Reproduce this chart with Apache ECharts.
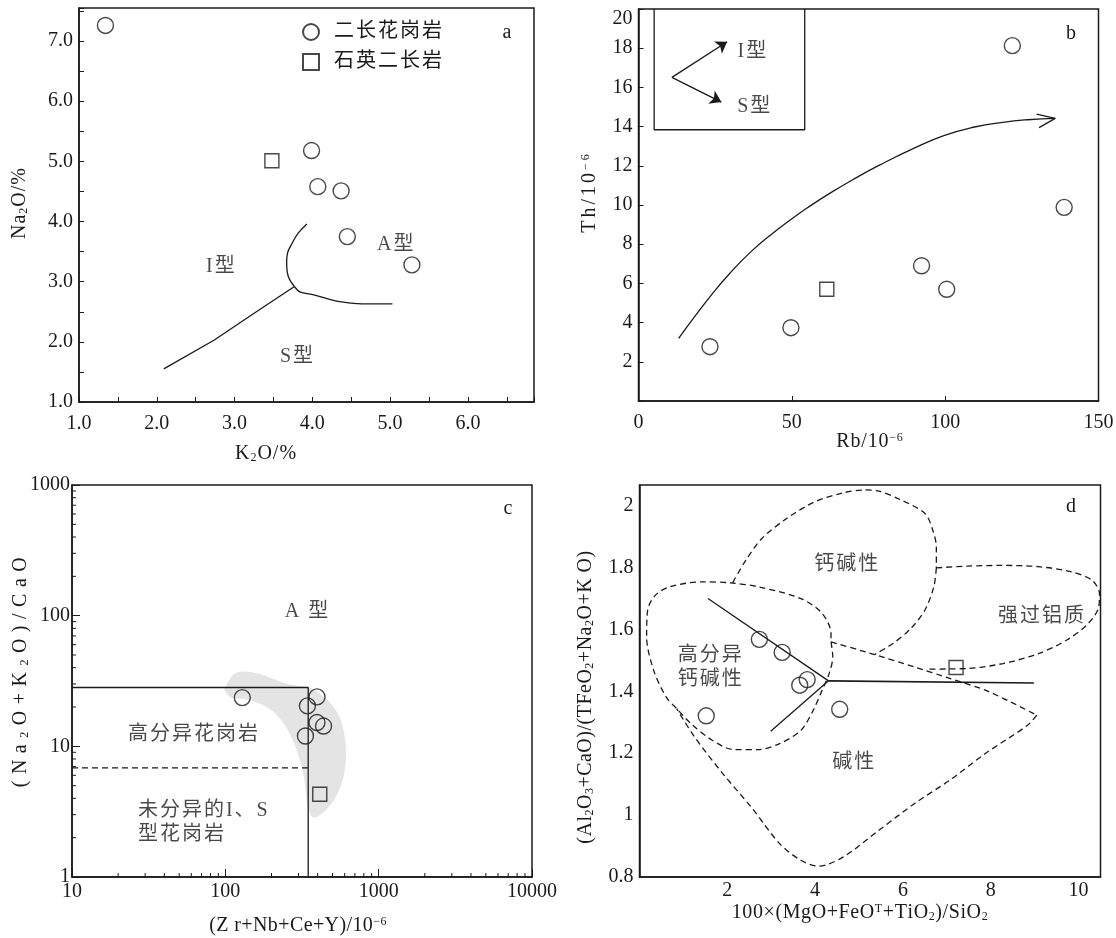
<!DOCTYPE html>
<html><head><meta charset="utf-8">
<script src="https://cdn.jsdelivr.net/npm/echarts/dist/echarts.min.js"></script>
<style>html,body{margin:0;padding:0;background:#fff}#c{width:1116px;height:938px}</style>
</head><body><div id="c"></div>
<script>
// ---------- Panel a : K2O vs Na2O ----------
const aMonzogranite = [[1.34,7.26],[3.99,5.18],[4.07,4.58],[4.37,4.51],[4.45,3.75],[5.28,3.28]];
const aQtzMonzonite = [[3.48,5.01]];
const aLineIS = [[2.09,1.55],[2.74,2.03],[3.29,2.51],[3.77,2.92]];
const aLineIA = [[3.77,2.92],[3.69,3.09],[3.67,3.31],[3.68,3.47],[3.74,3.64],[3.82,3.81],[3.93,3.96]];
const aLineSA = [[3.77,2.92],[3.84,2.83],[4.02,2.78],[4.30,2.68],[4.53,2.64],[4.76,2.63],[5.03,2.63]];
const aLabels = [{name:'I型',value:[2.83,3.25]},{name:'A型',value:[5.08,3.61]},{name:'S型',value:[3.81,1.76]}];

// ---------- Panel b : Rb vs Th ----------
const bMonzogranite = [[23.3,2.77],[49.7,3.74],[92.3,6.90],[100.5,5.70],[121.9,18.13],[138.8,9.88]];
const bQtzMonzonite = [[61.4,5.70]];
const bTrend = [[13.1,3.19],[18.3,4.30],[24.0,5.45],[29.8,6.52],[36.7,7.62],[43.7,8.55],[49.7,9.26],[55.2,9.87],[62.2,10.58],[70.3,11.33],[78.4,12.02],[89.9,12.90],[99.8,13.55],[109.6,13.98],[118.8,14.22],[126.9,14.35],[135.9,14.42]];
const bTrendHead = [[129.8,14.64],[135.9,14.42],[130.6,13.95]];
const bInsetBox = [[5.1,20],[5.1,13.84],[54.2,13.84],[54.2,20]];
const bInsetArrows = [[[10.9,16.51],[28.9,18.33]],[[10.9,16.51],[27.0,15.25]]];
const bLabels = [{name:'I型',value:[37.3,17.84]},{name:'S型',value:[37.9,15.0]}];

// ---------- Panel c : (Zr+Nb+Ce+Y) vs (Na2O+K2O)/CaO ----------
const cMonzogranite = [[129,23.6],[396,23.9],[343,20.4],[396,15.2],[437,14.3],[333,12.0]];
const cQtzMonzonite = [[413,4.30]];
const cBoxLine = [[10,28.2],[347,28.2],[347,1]];
const cDashLine = [[10,6.84],[347,6.84]];
const cFieldX = [100,117.5,162,248,381,526,601,601,526,425,372,347,325,292,248,200,146,108,99];
const cFieldY = [28.5,36.5,36.1,30.3,26.9,18.9,11.8,6.56,4.10,3.05,2.88,3.44,5.83,9.33,14.1,18.9,22.5,23.9,26.9];
const cLabelsCenter = [{name:'A 型',value:[343,107]},{name:'高分异花岗岩',value:[62.4,12.2]}];
const cLabelsLeft = [{name:'未分异的I、S\n型花岗岩',value:[26.9,2.58]}];

// ---------- Panel d ----------
const dMonzogranite = [[2.73,1.568],[3.25,1.526],[3.65,1.42],[3.82,1.438],[1.52,1.321],[4.56,1.342]];
const dQtzMonzonite = [[7.21,1.477]];
const dSolid1 = [[1.559,1.700],[4.305,1.434]];
const dSolid2 = [[2.989,1.271],[4.305,1.434]];
const dSolid3 = [[4.305,1.434],[8.982,1.427]];
const dCalcAlk = [[2.124,1.752],[2.423,1.824],[2.787,1.894],[3.352,1.959],[3.998,2.013],[4.645,2.042],[5.129,2.051],[5.452,2.047],[5.937,2.020],[6.502,1.975],[6.680,1.921],[6.761,1.867],[6.761,1.799]];
const dCalcAlkLow = [[6.761,1.799],[6.704,1.738],[6.502,1.663],[6.179,1.603],[5.775,1.555],[5.355,1.519]];
const dAlkTop = [[4.362,1.560],[5.355,1.519],[6.260,1.479],[7.068,1.442],[7.876,1.404],[8.522,1.361],[9.047,1.323]];
const dAlkRest = [[9.047,1.323],[8.845,1.291],[7.876,1.199],[7.068,1.113],[6.260,1.037],[5.452,0.951],[4.645,0.865],[4.079,0.835],[3.675,0.854],[3.191,0.908],[2.544,1.026],[1.898,1.134],[1.252,1.253],[0.848,1.344]];
const dFracEllipse = [[4.362,1.560],[4.402,1.512],[4.321,1.458],[4.160,1.404],[3.958,1.339],[3.675,1.274],[3.191,1.231],[2.706,1.212],[2.141,1.212],[1.656,1.242],[1.171,1.296],[0.848,1.344],[0.606,1.382],[0.323,1.468],[0.162,1.576],[0.186,1.663],[0.363,1.711],[0.687,1.738],[1.414,1.754],[2.060,1.751],[2.706,1.738],[3.675,1.700],[4.160,1.652],[4.362,1.587],[4.362,1.560]];
const dPeralum = [[6.761,1.799],[7.472,1.805],[8.280,1.807],[9.087,1.803],[9.814,1.787],[10.299,1.760],[10.477,1.716],[10.460,1.673],[10.218,1.619],[9.733,1.566],[9.087,1.522],[8.280,1.490],[7.472,1.474],[6.583,1.472]];
const dLabels = [{name:'钙碱性',value:[4.73,1.81]},{name:'强过铝质',value:[9.17,1.64]},{name:'高分异\n钙碱性',value:[1.62,1.475]},{name:'碱性',value:[4.89,1.17]}];

const SERIES_A = '二长花岗岩', SERIES_B = '石英二长岩';
const FONT = "'Liberation Serif','Noto Sans CJK SC',serif";
const INK = '#1a1a1a';

const chart = echarts.init(document.getElementById('c'), null, {renderer:'canvas'});

// wrap each character as its own rich token (for letter spacing)
function spaced(str, style){
  return str.split('').map(c => c==='\n' ? '\n' : '{'+style+'|'+c+'}').join('');
}
const cjkRich = {g:{fontSize:20,fontFamily:FONT,color:INK,padding:[0,2,0,0],lineHeight:24}};

function axisCommon(extra){
  return Object.assign({
    axisLine:{show:true,onZero:false,lineStyle:{color:INK,width:1.5}},
    axisTick:{show:true,inside:true,length:5,lineStyle:{color:INK,width:1}},
    axisLabel:{color:INK,fontSize:20,fontFamily:FONT},
    splitLine:{show:false}
  }, extra);
}
const fmt1 = v => Math.abs(v-Math.round(v))<1e-6 ? v.toFixed(1) : '';

function scatterPair(idx, monzo, qtz){
  return [
    {type:'scatter',name:SERIES_A,xAxisIndex:idx,yAxisIndex:idx,data:monzo,symbol:'circle',symbolSize:16,
     itemStyle:{color:'rgba(0,0,0,0)',borderColor:INK,borderWidth:1.4},z:5,silent:true},
    {type:'scatter',name:SERIES_B,xAxisIndex:idx,yAxisIndex:idx,data:qtz,symbol:'rect',symbolSize:14,
     itemStyle:{color:'rgba(0,0,0,0)',borderColor:INK,borderWidth:1.4},z:5,silent:true}
  ];
}
function line(idx, data, opts){
  opts = opts||{};
  return {type:'line',xAxisIndex:idx,yAxisIndex:idx,data:data,showSymbol:false,symbol:'none',
    smooth:opts.smooth||0,silent:true,z:3,
    lineStyle:{color:INK,width:opts.width||1.3,type:opts.dash?[6,4]:'solid'}};
}
function labels(idx, data, opts){
  opts = opts||{};
  return {type:'scatter',xAxisIndex:idx,yAxisIndex:idx,data:data,symbolSize:0,silent:true,z:4,
    label:{show:true,formatter:p=>spaced(p.name,'g'),position:opts.position||'inside',distance:0,align:opts.align||'center',
      color:INK,fontSize:20,fontFamily:FONT,lineHeight:24,rich:cjkRich}};
}

// axis name: parts = [[style,text],...], gap = extra letter spacing
function name(parts, x, y, rot, gap){
  const pad=[0,gap,0,0];
  const rich = {
    n:{fontSize:20,fontFamily:FONT,color:INK,padding:pad},
    sub:{fontSize:12,fontFamily:FONT,color:INK,verticalAlign:'bottom',padding:pad},
    sup:{fontSize:12,fontFamily:FONT,color:INK,verticalAlign:'top',padding:pad}
  };
  const text = parts.map(p=>spaced(p[1],p[0])).join('');
  return {type:'text',x:x,y:y,rotation:rot?Math.PI/2:0,silent:true,
    style:{text:text,rich:rich,fontSize:20,fontFamily:FONT,fill:INK,align:'center',verticalAlign:'middle'}};
}
function panelTag(t,x,y){
  return {type:'text',x:x,y:y,silent:true,style:{text:t,fontSize:20,fontFamily:FONT,fill:INK,align:'center',verticalAlign:'middle'}};
}

const cMinorX=[], cMinorY=[];
for (let e=1;e<4;e++) for (let m=2;m<=9;m++) cMinorX.push(m*Math.pow(10,e));
for (let e=0;e<3;e++) for (let m=2;m<=9;m++) cMinorY.push(m*Math.pow(10,e));

const option = {
  animation:false,
  backgroundColor:'#fff',
  textStyle:{fontFamily:FONT},
  legend:{show:true,left:297,top:17,orient:'vertical',itemGap:10,itemWidth:16,itemHeight:16,selectedMode:false,
    data:[SERIES_A,SERIES_B],formatter:n=>spaced(n,'g'),
    textStyle:{color:INK,fontSize:20,fontFamily:FONT,padding:[0,0,0,10],
      rich:{g:{fontSize:20,fontFamily:FONT,color:INK,padding:[0,2,0,0]}}}},
  grid:[
    {left:79,top:8,width:455,height:394,show:true,borderColor:INK,borderWidth:1.5,outerBoundsMode:'none'},
    {left:638.5,top:9,width:460,height:392,show:true,borderColor:INK,borderWidth:1.5,outerBoundsMode:'none'},
    {left:72,top:485,width:460,height:392,show:true,borderColor:INK,borderWidth:1.5,outerBoundsMode:'none'},
    {left:639.5,top:485,width:461,height:392,show:true,borderColor:INK,borderWidth:1.5,outerBoundsMode:'none'}
  ],
  xAxis:[
    axisCommon({type:'value',gridIndex:0,min:1,max:6.85,interval:0.5,
      axisLabel:{color:INK,fontSize:20,fontFamily:FONT,margin:12,formatter:fmt1}}),
    axisCommon({type:'value',gridIndex:1,min:0,max:150,interval:50,
      axisLabel:{color:INK,fontSize:20,fontFamily:FONT,margin:12}}),
    axisCommon({type:'log',logBase:10,gridIndex:2,min:10,max:10000,
      axisTick:{show:true,inside:true,length:8,lineStyle:{color:INK,width:1}},
      axisLabel:{color:INK,fontSize:20,fontFamily:FONT,margin:5,formatter:v=>String(Math.round(v))}}),
    axisCommon({type:'value',gridIndex:3,min:0,max:10.5,interval:2,axisTick:{show:false},
      axisLabel:{color:INK,fontSize:20,fontFamily:FONT,margin:4,
        formatter:v=> (v>0 && Math.abs(v/2-Math.round(v/2))<1e-6) ? String(Math.round(v)) : ''}})
  ],
  yAxis:[
    axisCommon({type:'value',gridIndex:0,min:1,max:7.55,interval:0.5,
      axisLabel:{color:INK,fontSize:20,fontFamily:FONT,margin:6,formatter:fmt1}}),
    axisCommon({type:'value',gridIndex:1,min:0,max:20,interval:2,
      axisLabel:{color:INK,fontSize:20,fontFamily:FONT,margin:6,
        formatter:v=> v>=19.99 ? '{t|20}' : (v>0 ? String(v):''),
        rich:{t:{fontSize:20,fontFamily:FONT,color:INK,padding:[20,0,0,0]}}}}),
    axisCommon({type:'log',logBase:10,gridIndex:2,min:1,max:1000,
      axisTick:{show:true,inside:true,length:8,lineStyle:{color:INK,width:1}},
      axisLabel:{color:INK,fontSize:20,fontFamily:FONT,margin:2,formatter:v=>String(Math.round(v))}}),
    axisCommon({type:'value',gridIndex:3,min:0.8,max:2.067,interval:0.2,axisTick:{show:false},
      axisLabel:{color:INK,fontSize:20,fontFamily:FONT,margin:6,
        formatter:v=> Math.abs(v/0.2-Math.round(v/0.2))<1e-6 ? String(+v.toFixed(1)) : ''}})
  ],
  graphic:[
    name([['n','K'],['sub','2'],['n','O/%']],266,454,false,1),
    name([['n','Na'],['sub','2'],['n','O/%']],20,203,true,1),
    name([['n','Rb/10'],['sup','−6']],870,442,false,0.8),
    name([['n','Th/10'],['sup','−6']],590,192,true,3),
    name([['n','(Z r+Nb+Ce+Y)/10'],['sup','−6']],298,926,false,0.4),
    name([['n','(Na'],['sub','2'],['n','O+K'],['sub','2'],['n','O)/CaO']],21,669,true,6.5),
    name([['n','100×(MgO+FeO'],['sup','T'],['n','+TiO'],['sub','2'],['n',')/SiO'],['sub','2']],860,913,false,0.6),
    name([['n','(Al'],['sub','2'],['n','O'],['sub','3'],['n','+CaO)/(TFeO'],['sub','2'],['n','+Na'],['sub','2'],['n','O+K O)']],586,697,true,0.5),
    panelTag('a',507,33),
    panelTag('b',1071,34),
    panelTag('c',508,509),
    panelTag('d',1071,507)
  ],
  series:[
    // panel a
    line(0,aLineIS,{}), line(0,aLineIA,{smooth:0.4}), line(0,aLineSA,{smooth:0.3}),
    labels(0,aLabels),
    ...scatterPair(0,aMonzogranite,aQtzMonzonite),
    // panel b
    line(1,bTrend,{smooth:0.5}), line(1,bTrendHead,{}), line(1,bInsetBox,{width:1.3}),
    {type:'lines',coordinateSystem:'cartesian2d',xAxisIndex:1,yAxisIndex:1,silent:true,z:3,
     symbol:['none','arrow'],symbolSize:11,lineStyle:{color:INK,width:1.3,opacity:1},
     data:bInsetArrows.map(c=>({coords:c}))},
    labels(1,bLabels),
    ...scatterPair(1,bMonzogranite,bQtzMonzonite),
    // panel c
    {type:'custom',xAxisIndex:2,yAxisIndex:2,data:[[cFieldX[0],cFieldY[0]]],silent:true,z:1,
     renderItem:function(params,api){
       const pts = cFieldX.map((x,i)=>api.coord([x,cFieldY[i]]));
       return {type:'polygon',shape:{points:pts,smooth:0.35},style:{fill:'#e4e4e4',stroke:'none'}};
     }},
    {type:'custom',xAxisIndex:2,yAxisIndex:2,data:[[100,10]],silent:true,z:6,clip:false,
     renderItem:function(params,api){
       const ch=[];
       cMinorX.forEach(v=>{const p=api.coord([v,1]);ch.push({type:'line',shape:{x1:p[0],y1:p[1],x2:p[0],y2:p[1]-4},style:{stroke:INK,lineWidth:1}});});
       cMinorY.forEach(v=>{const p=api.coord([10,v]);ch.push({type:'line',shape:{x1:p[0],y1:p[1],x2:p[0]+4,y2:p[1]},style:{stroke:INK,lineWidth:1}});});
       return {type:'group',children:ch};
     }},
    line(2,cBoxLine,{}), line(2,cDashLine,{dash:true}),
    labels(2,cLabelsCenter),
    labels(2,cLabelsLeft,{position:'right',align:'left'}),
    ...scatterPair(2,cMonzogranite,cQtzMonzonite),
    // panel d
    line(3,dSolid1,{}), line(3,dSolid2,{}), line(3,dSolid3,{width:1.6}),
    line(3,dCalcAlk,{dash:true,smooth:0.3}), line(3,dCalcAlkLow,{dash:true,smooth:0.3}),
    line(3,dAlkTop,{dash:true,smooth:0.2}), line(3,dAlkRest,{dash:true,smooth:0.3}),
    line(3,dFracEllipse,{dash:true,smooth:0.3}), line(3,dPeralum,{dash:true,smooth:0.3}),
    labels(3,dLabels),
    ...scatterPair(3,dMonzogranite,dQtzMonzonite)
  ]
};
chart.setOption(option);
</script></body></html>
